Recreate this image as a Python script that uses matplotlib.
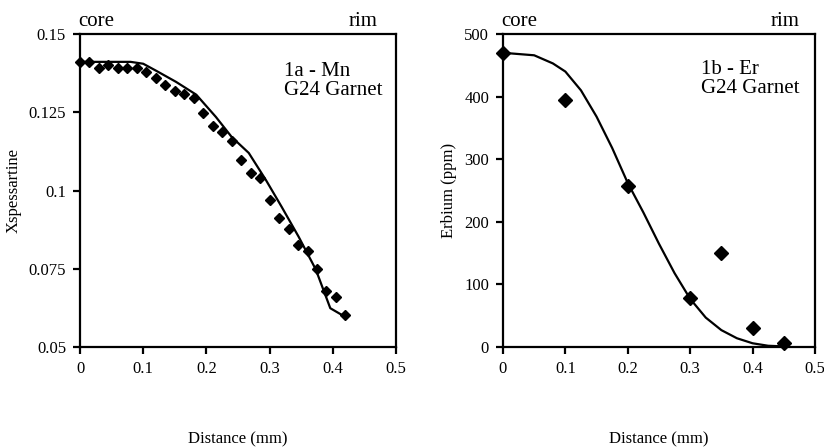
import matplotlib
matplotlib.use("Agg")
import matplotlib.pyplot as plt

plt.rcParams['font.family'] = ['Liberation Serif', 'DejaVu Serif']

# Mn profile (panel 1a)
mn_x = [0, 0.015, 0.03, 0.045, 0.06, 0.075, 0.09, 0.105, 0.12, 0.135,
        0.15, 0.165, 0.18, 0.195, 0.21, 0.225, 0.24, 0.255, 0.27, 0.285,
        0.3, 0.315, 0.33, 0.345, 0.36, 0.375, 0.39, 0.405, 0.42]
mn_y = [0.1411, 0.1411, 0.1392, 0.1402, 0.1392, 0.1392, 0.1392, 0.1379, 0.136, 0.1338,
        0.1319, 0.1309, 0.1296, 0.1248, 0.1207, 0.1188, 0.1159, 0.1098, 0.1057, 0.1041,
        0.097, 0.0913, 0.0877, 0.0826, 0.0807, 0.075, 0.0679, 0.066, 0.0602]
mn_fit_x = [0, 0.04, 0.08, 0.1, 0.121, 0.152, 0.184, 0.215, 0.24, 0.267,
            0.294, 0.319, 0.346, 0.373, 0.396, 0.419]
mn_fit_y = [0.1411, 0.1411, 0.1411, 0.1405, 0.1382, 0.1347, 0.1306, 0.1235, 0.1171, 0.112,
            0.1034, 0.0948, 0.0852, 0.0748, 0.0624, 0.0597]

# Er profile (panel 1b)
er_x = [0, 0.1, 0.2, 0.3, 0.35, 0.4, 0.45]
er_y = [470, 394, 257, 78, 150, 30, 6]
er_fit_x = [0, 0.05, 0.08, 0.1, 0.125, 0.15, 0.175, 0.2, 0.225, 0.25,
            0.275, 0.3, 0.325, 0.35, 0.375, 0.4, 0.425, 0.45]
er_fit_y = [470, 466, 453, 440, 410, 368, 318, 262, 215, 165,
            118, 77, 47, 27, 14, 6, 2, 1]

x_ticks = [0, 0.1, 0.2, 0.3, 0.4, 0.5]
x_labels = ["0", "0.1", "0.2", "0.3", "0.4", "0.5"]
mn_ticks = [0.05, 0.075, 0.1, 0.125, 0.15]
mn_labels = ["0.05", "0.075", "0.1", "0.125", "0.15"]
er_ticks = [0, 100, 200, 300, 400, 500]
er_labels = ["0", "100", "200", "300", "400", "500"]

fig = plt.figure(figsize=(8.24, 4.48), dpi=100)
ax1 = fig.add_axes([0.0971, 0.2254, 0.3835, 0.6987])
ax2 = fig.add_axes([0.6104, 0.2254, 0.3786, 0.6987])


def style(ax):
    for s in ax.spines.values():
        s.set_linewidth(1.6)
    ax.tick_params(direction='out', length=5, width=1.6, labelsize=12,
                   top=False, right=False, pad=5)
    ax.set_xlim(0, 0.5)
    ax.set_xticks(x_ticks)
    ax.set_xticklabels(x_labels)
    ax.set_xlabel("Distance (mm)", fontsize=12, labelpad=39)
    ax.text(-0.005, 1.01, "core", transform=ax.transAxes, fontsize=15,
            ha='left', va='bottom')


# panel 1a
style(ax1)
ax1.plot(mn_fit_x, mn_fit_y, color='black', lw=1.6)
ax1.plot(mn_x, mn_y, 'D', color='black', ms=5.5, clip_on=False)
ax1.set_ylim(0.05, 0.15)
ax1.set_yticks(mn_ticks)
ax1.set_yticklabels(mn_labels)
ax1.set_ylabel("Xspessartine", fontsize=12, labelpad=5)
ax1.text(0.94, 1.01, "rim", transform=ax1.transAxes, fontsize=15,
         ha='right', va='bottom')
ax1.text(0.645, 0.85, "1a - Mn\nG24 Garnet", transform=ax1.transAxes,
         fontsize=15, ha='left', va='center', linespacing=1.0)

# panel 1b
style(ax2)
ax2.plot(er_fit_x, er_fit_y, color='black', lw=1.6)
ax2.plot(er_x, er_y, 'D', color='black', ms=7, clip_on=False)
ax2.set_ylim(0, 500)
ax2.set_yticks(er_ticks)
ax2.set_yticklabels(er_labels)
ax2.set_ylabel("Erbium (ppm)", fontsize=12, labelpad=5)
ax2.text(0.95, 1.01, "rim", transform=ax2.transAxes, fontsize=15,
         ha='right', va='bottom')
ax2.text(0.635, 0.855, "1b - Er\nG24 Garnet", transform=ax2.transAxes,
         fontsize=15, ha='left', va='center', linespacing=1.0)

fig.savefig("out.png", dpi=100)
